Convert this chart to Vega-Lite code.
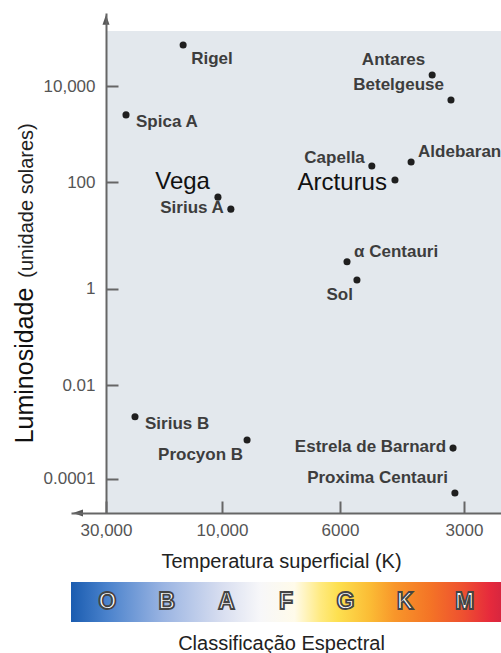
{
  "$schema": "https://vega.github.io/schema/vega-lite/v6.json",
  "background": "white",
  "padding": {"left": 12, "top": 13, "right": 0, "bottom": 0},
  "bounds": "flush",
  "spacing": 69,
  "config": {"view": {"stroke": null}, "font": "Liberation Sans", "axis": {"grid": false}},
  "vconcat": [
    {
      "width": 430,
      "height": 500,
      "data": {"values": [
        {"estrela": "Rigel", "temperatura": 16700, "luminosidade": 71000, "posicao": "direita_abaixo"},
        {"estrela": "Spica A", "temperatura": 26550, "luminosidade": 2500, "posicao": "direita"},
        {"estrela": "Vega", "temperatura": 10700, "luminosidade": 52, "posicao": "destaque_acima"},
        {"estrela": "Sirius A", "temperatura": 9700, "luminosidade": 31, "posicao": "esquerda"},
        {"estrela": "Antares", "temperatura": 3770, "luminosidade": 16900, "posicao": "esquerda_acima"},
        {"estrela": "Betelgeuse", "temperatura": 3315, "luminosidade": 5100, "posicao": "esquerda_acima"},
        {"estrela": "Capella", "temperatura": 5230, "luminosidade": 215, "posicao": "esquerda_leve"},
        {"estrela": "Aldebaran", "temperatura": 4280, "luminosidade": 261, "posicao": "direita_acima"},
        {"estrela": "Arcturus", "temperatura": 4670, "luminosidade": 110, "posicao": "destaque"},
        {"estrela": "α Centauri", "temperatura": 5830, "luminosidade": 3.2, "posicao": "direita_acima"},
        {"estrela": "Sol", "temperatura": 5590, "luminosidade": 1.46, "posicao": "esquerda_abaixo"},
        {"estrela": "Sirius B", "temperatura": 25000, "luminosidade": 0.0021, "posicao": "direita"},
        {"estrela": "Procyon B", "temperatura": 9150, "luminosidade": 0.00067, "posicao": "esquerda_abaixo"},
        {"estrela": "Estrela de Barnard", "temperatura": 3265, "luminosidade": 0.00045, "posicao": "esquerda"},
        {"estrela": "Proxima Centauri", "temperatura": 3220, "luminosidade": 0.0000495, "posicao": "esquerda_acima"}
      ]},
      "encoding": {
        "x": {"field": "temperatura", "type": "quantitative",
          "scale": {"type": "linear", "domain": [36000, 30000, 10000, 6000, 3000, 2100], "range": [0, 35, 151, 269, 393, 430], "nice": false, "zero": false},
          "axis": {"values": [30000, 10000, 6000, 3000],
            "labelExpr": "datum.value >= 10000 ? format(datum.value, ',') : format(datum.value, 'd')",
            "title": "Temperatura superficial (K)", "titleFontSize": 20, "titleFontWeight": "normal", "titleColor": "#222",
            "titleX": 210, "titleY": 54, "titleBaseline": "alphabetic", "titleAlign": "center",
            "labelFontSize": 17, "labelColor": "#555", "labelFlush": false, "labelOverlap": false,
            "ticks": true, "tickSize": -12, "tickWidth": 2, "tickColor": "#666", "domain": true, "domainColor": "#666", "domainWidth": 2,
            "labelPadding": 21, "zindex": 1, "grid": false}},
        "y": {"field": "luminosidade", "type": "quantitative",
          "scale": {"type": "log", "domain": [0.0000186, 0.0001, 0.01, 1, 100, 10000, 330000], "range": [500, 465.7, 372, 275.7, 169, 73, 0], "nice": false},
          "axis": null}
      },
      "layer": [
        {
          "data": {"values": [{"regiao": "fundo", "t_inicio": 30000, "t_fim": 2100, "l_inicio": 0.0000186, "l_fim": 140000}]},
          "mark": {"type": "rect", "color": "#e3e8ed", "opacity": 1},
          "encoding": {
            "x": {"field": "t_inicio", "type": "quantitative"},
            "x2": {"field": "t_fim"},
            "y": {"field": "l_inicio", "type": "quantitative",
              "axis": {"orient": "left", "offset": -35, "values": [0.0001, 0.01, 1, 100, 10000], "format": ",~g",
                "title": "Luminosidade", "titleFontSize": 25, "titleFontWeight": "normal", "titleColor": "#111",
                "titleX": -74, "titleY": 352, "titleAngle": 270, "titleAlign": "center", "titleBaseline": "alphabetic",
                "labelFontSize": 17, "labelColor": "#555", "labelFlush": false,
                "ticks": true, "tickSize": -12, "tickWidth": 2, "tickColor": "#666", "domain": true, "domainColor": "#666", "domainWidth": 2,
                "labelPadding": 23, "zindex": 1, "grid": false}},
            "y2": {"field": "l_fim"}
          }
        },
        {
          "data": {"values": [{"seta": "eixo y", "temperatura": 30000, "luminosidade": 240000}]},
          "mark": {"type": "point", "shape": "M0,-1L0.7,1L-0.7,1Z", "filled": true, "size": 100, "color": "#555", "opacity": 1},
          "encoding": {}
        },
        {
          "data": {"values": [{"seta": "eixo x", "temperatura": 34800, "luminosidade": 0.0000186}]},
          "mark": {"type": "point", "shape": "M-1,0L1,-0.7L1,0.7Z", "filled": true, "size": 100, "color": "#555", "opacity": 1},
          "encoding": {}
        },
        {
          "mark": {"type": "circle", "size": 50, "color": "#1f1f1f", "opacity": 1},
          "encoding": {
            "y": {"field": "luminosidade", "type": "quantitative",
              "axis": {"orient": "left", "offset": -35, "title": "(unidade solares)", "titleFontSize": 20, "titleFontWeight": "normal", "titleColor": "#222",
                "titleX": -74, "titleY": 187, "titleAngle": 270, "titleAlign": "center", "titleBaseline": "alphabetic",
                "labels": false, "ticks": false, "domain": false, "grid": false}}
          }
        },
        {
          "transform": [{"filter": "datum.posicao === 'direita'"}],
          "mark": {"type": "text", "align": "left", "baseline": "middle", "dx": 10, "dy": 7, "fontSize": 17, "fontWeight": "bold", "color": "#3d3d3d"},
          "encoding": {"text": {"field": "estrela"}}
        },
        {
          "transform": [{"filter": "datum.posicao === 'direita_abaixo'"}],
          "mark": {"type": "text", "align": "left", "baseline": "middle", "dx": 8, "dy": 14, "fontSize": 17, "fontWeight": "bold", "color": "#3d3d3d"},
          "encoding": {"text": {"field": "estrela"}}
        },
        {
          "transform": [{"filter": "datum.posicao === 'direita_acima'"}],
          "mark": {"type": "text", "align": "left", "baseline": "middle", "dx": 7, "dy": -10, "fontSize": 17, "fontWeight": "bold", "color": "#3d3d3d"},
          "encoding": {"text": {"field": "estrela"}}
        },
        {
          "transform": [{"filter": "datum.posicao === 'esquerda'"}],
          "mark": {"type": "text", "align": "right", "baseline": "middle", "dx": -7, "dy": -1, "fontSize": 17, "fontWeight": "bold", "color": "#3d3d3d"},
          "encoding": {"text": {"field": "estrela"}}
        },
        {
          "transform": [{"filter": "datum.posicao === 'esquerda_acima'"}],
          "mark": {"type": "text", "align": "right", "baseline": "middle", "dx": -7, "dy": -15, "fontSize": 17, "fontWeight": "bold", "color": "#3d3d3d"},
          "encoding": {"text": {"field": "estrela"}}
        },
        {
          "transform": [{"filter": "datum.posicao === 'esquerda_leve'"}],
          "mark": {"type": "text", "align": "right", "baseline": "middle", "dx": -7, "dy": -8, "fontSize": 17, "fontWeight": "bold", "color": "#3d3d3d"},
          "encoding": {"text": {"field": "estrela"}}
        },
        {
          "transform": [{"filter": "datum.posicao === 'esquerda_abaixo'"}],
          "mark": {"type": "text", "align": "right", "baseline": "middle", "dx": -4, "dy": 15, "fontSize": 17, "fontWeight": "bold", "color": "#3d3d3d"},
          "encoding": {"text": {"field": "estrela"}}
        },
        {
          "transform": [{"filter": "datum.posicao === 'destaque_acima'"}],
          "mark": {"type": "text", "align": "right", "baseline": "middle", "dx": -8, "dy": -15, "fontSize": 24, "color": "#111"},
          "encoding": {"text": {"field": "estrela"}}
        },
        {
          "transform": [{"filter": "datum.posicao === 'destaque'"}],
          "mark": {"type": "text", "align": "right", "baseline": "middle", "dx": -8, "dy": 3, "fontSize": 24, "color": "#111"},
          "encoding": {"text": {"field": "estrela"}}
        }
      ],
      "resolve": {"axis": {"y": "independent"}}
    },
    {
      "width": 430,
      "height": 40,
      "layer": [
        {
          "data": {"values": [{"faixa": "espectro"}]},
          "mark": {"type": "rect", "fill": {"gradient": "linear", "x1": 0, "y1": 0, "x2": 1, "y2": 0, "stops": [
            {"offset": 0, "color": "#1a5cb0"},
            {"offset": 0.084, "color": "#4a82cc"},
            {"offset": 0.214, "color": "#9ab4e2"},
            {"offset": 0.351, "color": "#d8def0"},
            {"offset": 0.44, "color": "#f7f7f9"},
            {"offset": 0.52, "color": "#fffbea"},
            {"offset": 0.58, "color": "#ffea80"},
            {"offset": 0.62, "color": "#fde050"},
            {"offset": 0.695, "color": "#fbbc35"},
            {"offset": 0.753, "color": "#f8962a"},
            {"offset": 0.835, "color": "#f47426"},
            {"offset": 0.912, "color": "#ee5030"},
            {"offset": 0.974, "color": "#e62a3c"},
            {"offset": 1, "color": "#d8263f"}
          ]}},
          "encoding": {}
        },
        {
          "data": {"values": [
            {"classe": "O"}, {"classe": "B"}, {"classe": "A"}, {"classe": "F"}, {"classe": "G"}, {"classe": "K"}, {"classe": "M"}
          ]},
          "mark": {"type": "text", "fontSize": 23, "fontWeight": "bold", "fill": "white", "stroke": "#444", "strokeWidth": 1.8, "baseline": "middle"},
          "encoding": {
            "x": {"field": "classe", "type": "nominal",
              "scale": {"type": "point", "padding": 0.61, "domain": ["O", "B", "A", "F", "G", "K", "M"]},
              "axis": {"title": "Classificação Espectral", "labels": false, "ticks": false, "domain": false, "grid": false,
                "titleFontSize": 20, "titleFontWeight": "normal", "titleColor": "#222", "titlePadding": 11, "titleX": 210}},
            "text": {"field": "classe"}
          }
        }
      ]
    }
  ]
}
